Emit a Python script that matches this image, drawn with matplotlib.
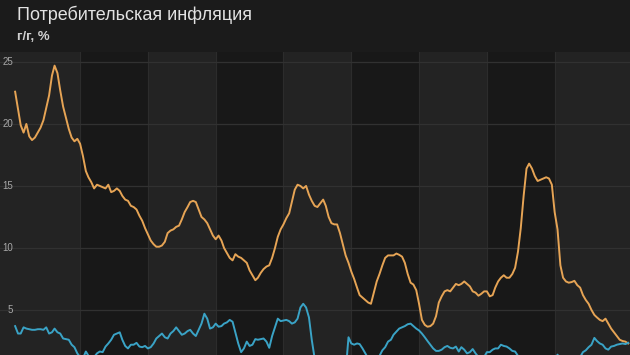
import numpy as np
import pandas as pd
import matplotlib
matplotlib.use("Agg")
import matplotlib.pyplot as plt

# monthly y/y CPI, Jan 2000 .. Feb 2018
months = pd.date_range("2000-01-01", periods=218, freq="MS")

russia_cpi = [
    22.6, 21.2, 19.9, 19.3, 20.0, 19.0, 18.7, 18.9, 19.3, 19.7, 20.3, 21.3,  # 2000
    22.3, 23.9, 24.7, 24.1, 22.7, 21.4, 20.5, 19.6, 18.9, 18.6, 18.8, 18.4,  # 2001
    17.4, 16.2, 15.7, 15.3, 14.8, 15.1, 15.0, 14.9, 14.8, 15.1, 14.5, 14.6,  # 2002
    14.8, 14.6, 14.2, 13.9, 13.8, 13.4, 13.3, 13.1, 12.6, 12.2, 11.6, 11.1,  # 2003
    10.6, 10.3, 10.1, 10.1, 10.2, 10.5, 11.2, 11.4, 11.5, 11.7, 11.8, 12.3,  # 2004
    12.9, 13.3, 13.7, 13.8, 13.7, 13.1, 12.5, 12.3, 12.0, 11.5, 11.0, 10.7,  # 2005
    11.0, 10.6, 10.0, 9.6, 9.2, 9.0, 9.5, 9.3, 9.2, 9.0, 8.8, 8.2,  # 2006
    7.8, 7.4, 7.6, 8.0, 8.3, 8.5, 8.6, 9.2, 10.0, 10.9, 11.5, 11.9,  # 2007
    12.4, 12.8, 13.7, 14.7, 15.1, 15.0, 14.8, 15.0, 14.3, 13.8, 13.4, 13.3,  # 2008
    13.6, 13.9, 13.4, 12.5, 12.0, 11.9, 11.9, 11.2, 10.3, 9.4, 8.8, 8.1,  # 2009
    7.5, 6.8, 6.2, 6.0, 5.8, 5.6, 5.5, 6.4, 7.3, 7.9, 8.6, 9.2,  # 2010
    9.4, 9.4, 9.4, 9.55, 9.45, 9.3, 8.8, 7.9, 7.2, 7.05, 6.6, 5.5,  # 2011
    4.2, 3.8, 3.65, 3.7, 3.9, 4.5, 5.6, 6.1, 6.5, 6.6, 6.5, 6.8,  # 2012
    7.1, 7.0, 7.1, 7.3, 7.1, 6.9, 6.5, 6.4, 6.15, 6.3, 6.5, 6.5,  # 2013
    6.1, 6.2, 6.8, 7.3, 7.6, 7.8, 7.6, 7.6, 7.9, 8.4, 9.7, 11.6,  # 2014
    14.2, 16.4, 16.8, 16.4, 15.8, 15.4, 15.5, 15.6, 15.7, 15.6, 15.1, 12.9,  # 2015
    11.5, 8.6, 7.6, 7.3, 7.2, 7.25, 7.35, 7.0, 6.8, 6.2, 5.8, 5.5,  # 2016
    5.0, 4.6, 4.4, 4.2, 4.1, 4.3, 3.9, 3.5, 3.2, 2.9, 2.6, 2.5,  # 2017
    2.45, 2.3,  # 2018
]

us_cpi = [
    3.7, 3.1, 3.1, 3.6, 3.5, 3.45, 3.4, 3.4, 3.45, 3.45, 3.4, 3.6,  # 2000
    3.1, 3.2, 3.5, 3.2, 3.1, 2.7, 2.65, 2.6, 2.2, 2.0, 1.5, 1.2,  # 2001
    1.1, 1.65, 1.3, 1.1, 1.2, 1.5, 1.65, 1.6, 2.05, 2.3, 2.6, 3.0,  # 2002
    3.1, 3.2, 2.6, 2.1, 1.9, 2.2, 2.2, 2.35, 2.05, 2.0, 2.1, 1.9,  # 2003
    2.0, 2.3, 2.7, 2.9, 3.1, 2.8, 2.7, 3.1, 3.3, 3.6, 3.3, 3.0,  # 2004
    3.1, 3.3, 3.4, 3.1, 2.9, 3.4, 3.9, 4.7, 4.3, 3.5, 3.6, 3.9,  # 2005
    3.65, 3.7, 3.9, 4.0, 4.2, 4.05, 3.2, 2.3, 1.6, 1.9, 2.45, 2.1,  # 2006
    2.2, 2.65, 2.6, 2.65, 2.7, 2.45, 1.95, 2.9, 3.6, 4.3, 4.1, 4.15,  # 2007
    4.2, 4.1, 3.9, 4.0, 4.3, 5.2, 5.5, 5.2, 4.4, 2.6, 1.1, 0.1,  # 2008
    0.0, 0.2, -0.4, -0.7, -1.3, -1.4, -2.1, -1.5, -1.3, 0.0, 2.8, 2.3,  # 2009
    2.2, 2.3, 2.25, 1.9, 1.5, 1.1, 1.2, 1.15, 1.1, 1.3, 1.75, 2.0,  # 2010
    2.45, 2.6, 3.0, 3.25, 3.5, 3.6, 3.7, 3.85, 3.9, 3.7, 3.5, 3.35,  # 2011
    3.1, 2.8, 2.5, 2.2, 1.9, 1.7, 1.7, 1.8, 2.0, 2.1, 1.95, 1.9,  # 2012
    2.05, 1.65, 2.0, 1.8, 1.5, 1.6, 1.85, 1.5, 1.2, 1.0, 1.2, 1.6,  # 2013
    1.6, 1.8, 1.9, 1.9, 2.2, 2.1, 2.05, 1.9, 1.7, 1.65, 1.3, 0.8,  # 2014
    -0.1, 0.0, -0.1, -0.2, 0.0, 0.1, 0.2, 0.2, 0.0, 0.2, 0.5, 0.7,  # 2015
    1.4, 1.0, 0.9, 1.1, 1.0, 1.0, 0.8, 1.1, 1.2, 1.6, 1.75, 2.0,  # 2016
    2.2, 2.75, 2.5, 2.3, 2.2, 1.9, 1.8, 2.05, 2.1, 2.2, 2.25, 2.3,  # 2017
    2.25, 2.35,  # 2018
]

y_ticks = [5, 10, 15, 20, 25]
# shaded bands flip every two years
band_edges = ["2001-12-01", "2003-12-01", "2005-12-01", "2007-12-01",
              "2009-12-01", "2011-12-01", "2013-12-01", "2015-12-01"]

title = "Потребительская инфляция"
subtitle = "г/г, %"

BG = "#1b1b1b"
BAND_LIGHT = "#232323"
BAND_DARK = "#181818"
ORANGE = "#e6a455"
BLUE = "#3aa3c6"

plt.rcParams["font.family"] = ["Liberation Sans", "DejaVu Sans"]

fig = plt.figure(figsize=(6.3, 3.55), dpi=100, facecolor=BG)
ax = fig.add_axes([0, 0, 1, 303 / 355])
ax.set_facecolor(BAND_DARK)

x0 = pd.Timestamp("1999-07-22")
x1 = pd.Timestamp("2018-02-20")
ax.set_xlim(x0, x1)
ax.set_ylim(1.37, 25.8)

edges = [x0] + [pd.Timestamp(e) for e in band_edges] + [x1]
for i in range(len(edges) - 1):
    if i % 2 == 0:
        ax.axvspan(edges[i], edges[i + 1], color=BAND_LIGHT, lw=0, zorder=0)
for e in edges[1:-1]:
    ax.axvline(e, color="#2c2c2c", lw=0.8, zorder=0.5)

for t in y_ticks:
    ax.axhline(t, color="#313131", lw=0.9, zorder=0.6)
    ax.text(13 / 630, t, str(t), transform=ax.get_yaxis_transform(),
            ha="right", va="center", fontsize=7, color="#a8a8a8", zorder=4)

ax.plot(months, russia_cpi, color=ORANGE, lw=1.4, zorder=3)
ax.plot(months, us_cpi, color=BLUE, lw=1.4, zorder=3)

ax.set_xticks([])
ax.set_yticks([])
for s in ax.spines.values():
    s.set_visible(False)

fig.text(17 / 630, 1 - 15 / 355, title, color="#e2e2e2", fontsize=13,
         va="center", ha="left")
fig.text(17 / 630, 1 - 37 / 355, subtitle, color="#cfcfcf", fontsize=9.5,
         fontweight="bold", va="center", ha="left")

fig.savefig("out.png", dpi=100, facecolor=BG)
